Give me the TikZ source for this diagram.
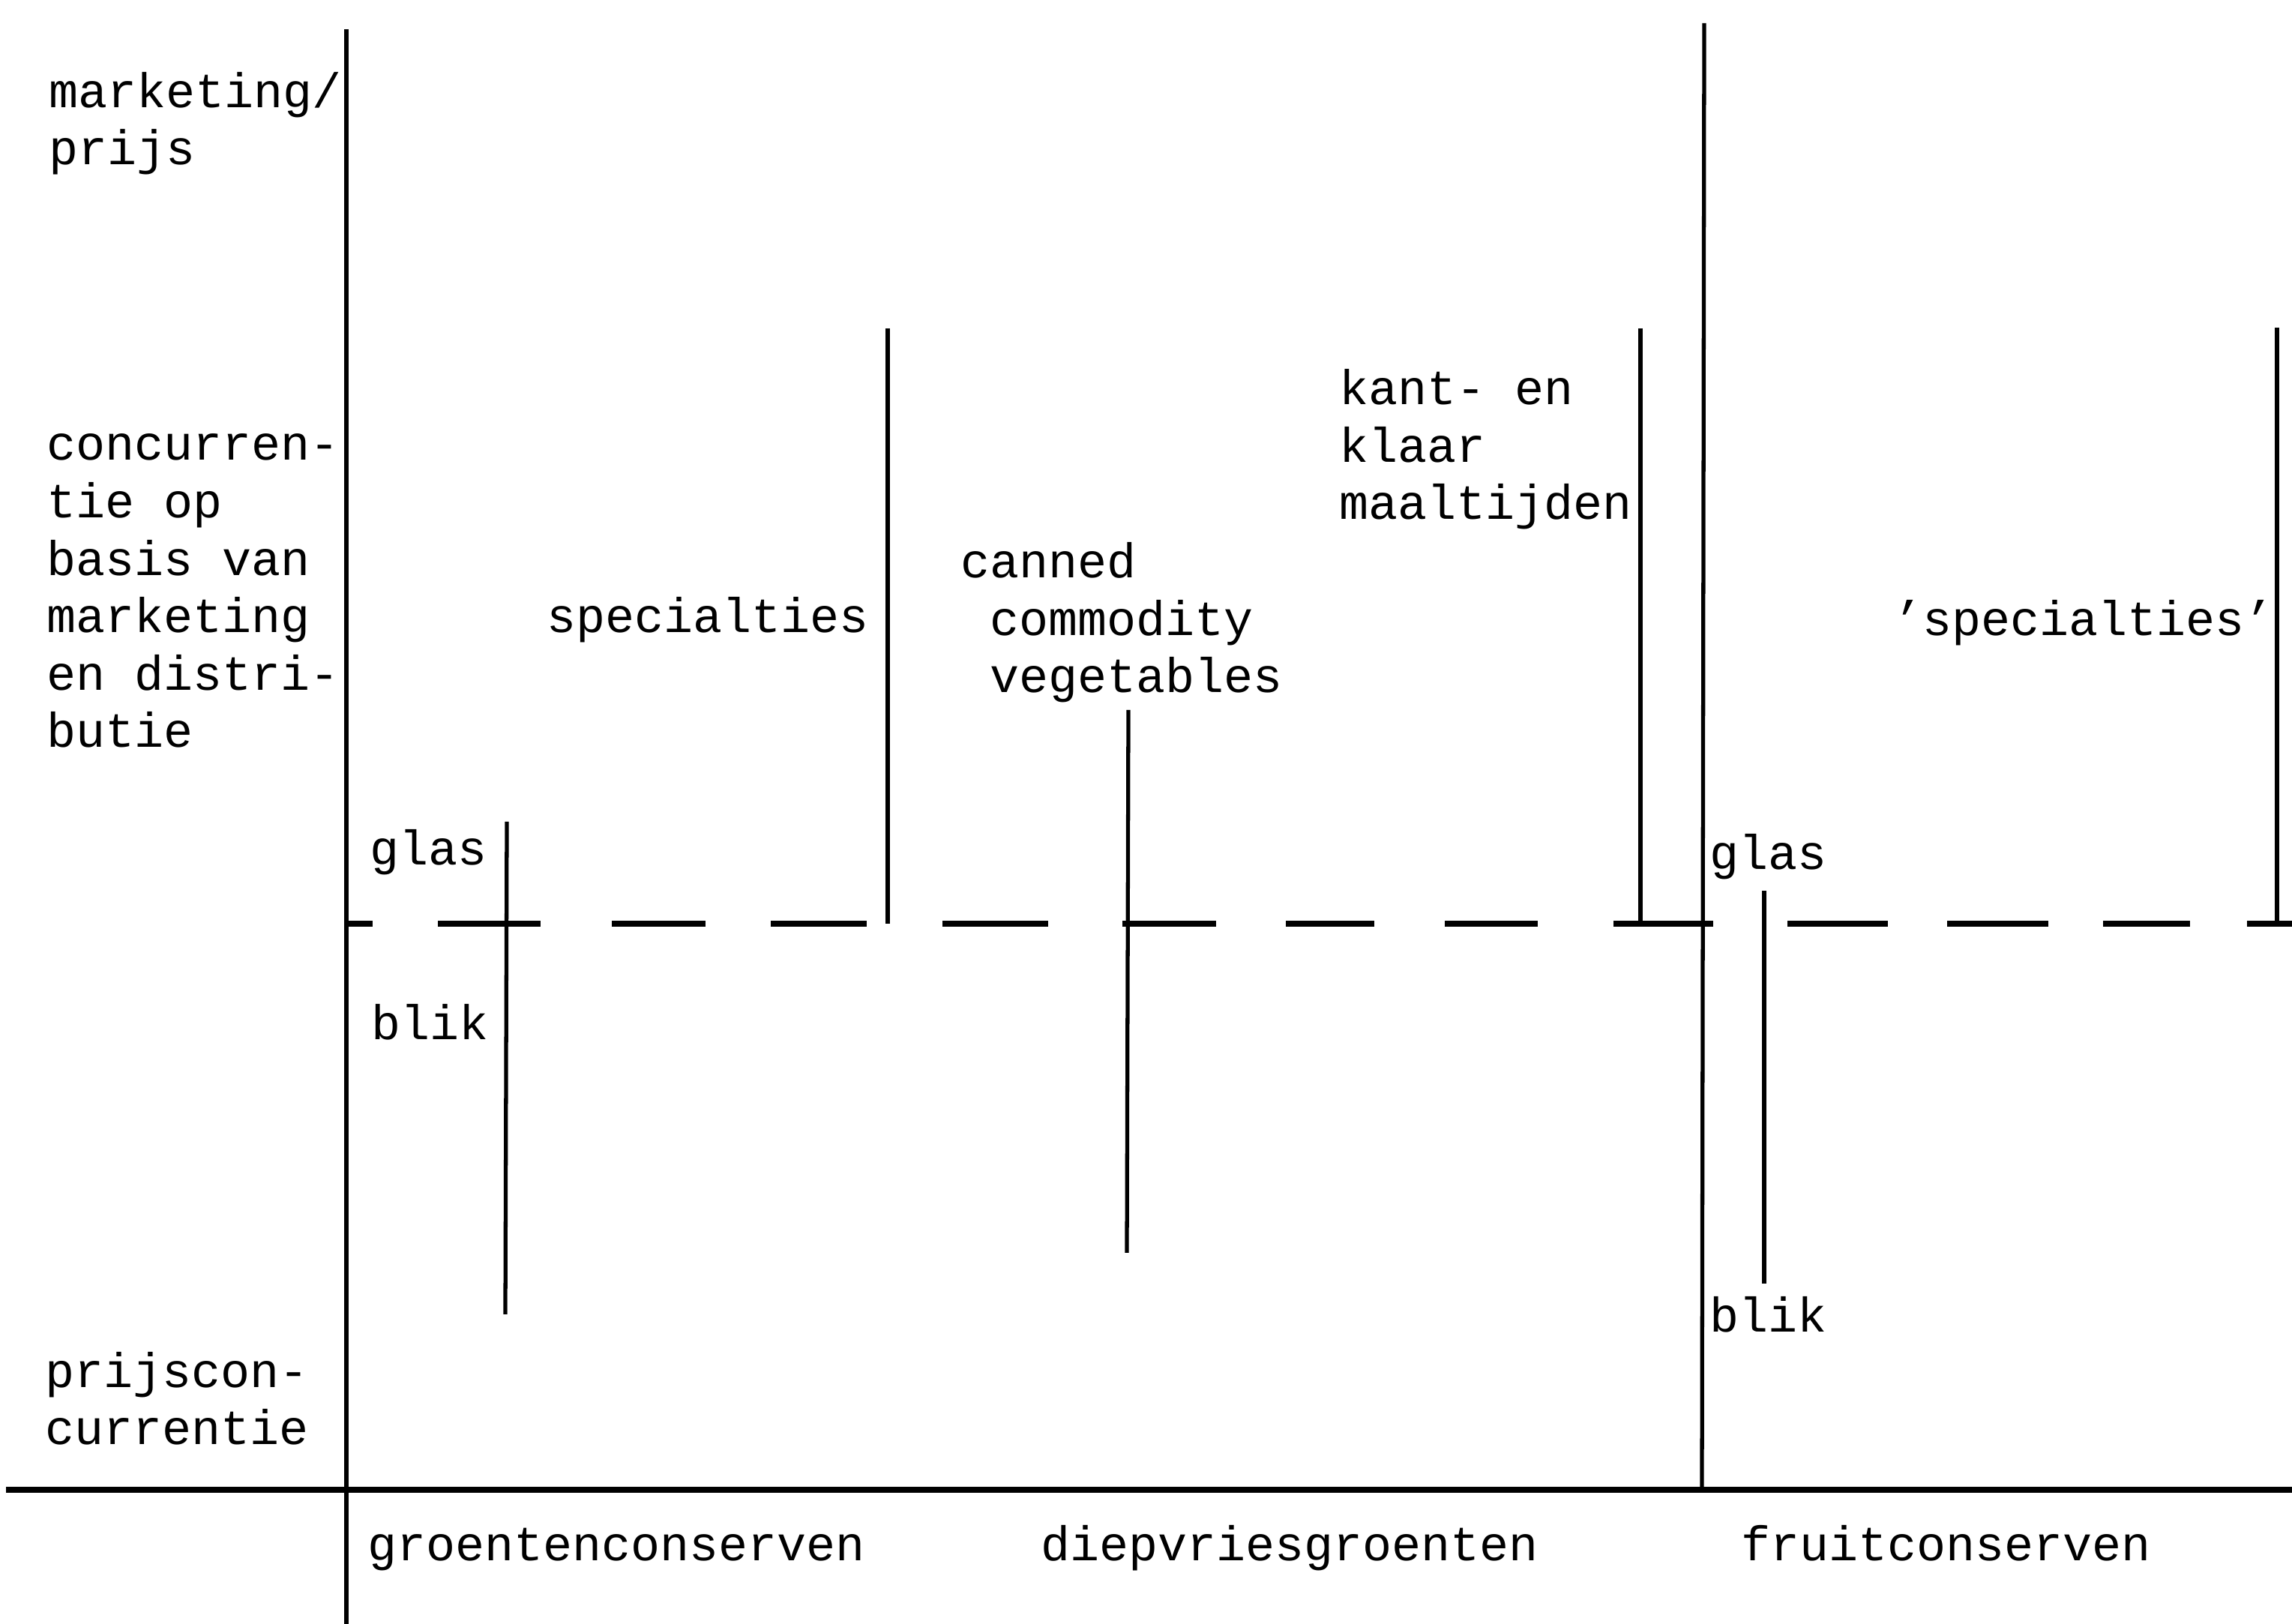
\documentclass[tikz,border=0pt]{standalone}
\usepackage{fontspec}
\setmonofont{Liberation Mono}
\usetikzlibrary{positioning}

\begin{document}
\begin{tikzpicture}[x=1cm,y=1cm,
  every node/.style={font=\ttfamily\fontsize{18.5}{21.8}\selectfont,
    inner sep=0pt,anchor=base west,align=left},
  as/.style={line width=1.5pt},
  lijn/.style={line width=1.5pt},
  streep/.style={line width=2.2pt}]
  \useasboundingbox (0,0) rectangle (30.57,21.66);

  % assen
  \coordinate (yboven) at (4.62,21.27);
  \coordinate (yonder) at (4.62,0);
  \coordinate (xlinks) at (0.08,1.79);
  \coordinate (xrechts) at (30.57,1.79);
  \coordinate (scheidboven) at (22.73,21.35);
  \coordinate (scheidonder) at (22.70,1.79);
  \draw[as] (yboven) -- (yonder);
  \draw[line width=2pt] (xlinks) -- (xrechts);
  \draw[as] (scheidboven) -- (scheidonder);

  % grens marketing / prijs
  \foreach \a/\b in {4.62/4.97,5.84/7.21,8.16/9.41,10.28/11.56,12.57/13.98,
      14.97/16.22,17.15/18.33,19.27/20.51,21.52/22.85,23.84/25.18,
      25.97/27.32,28.05/29.21,29.97/30.57}
    \draw[streep] (\a,9.34) -- (\b,9.34);

  % productgroepen
  \coordinate (spec1top) at (11.84,17.28);
  \coordinate (spec1bot) at (11.84,9.34);
  \coordinate (gb1top) at (6.76,10.70);
  \coordinate (gb1bot) at (6.74,4.13);
  \coordinate (cantop) at (15.05,12.19);
  \coordinate (canbot) at (15.03,4.95);
  \coordinate (kanttop) at (21.88,17.28);
  \coordinate (kantbot) at (21.88,9.34);
  \coordinate (gb2top) at (23.53,9.78);
  \coordinate (gb2bot) at (23.53,4.54);
  \coordinate (spec2top) at (30.37,17.29);
  \coordinate (spec2bot) at (30.37,9.34);
  \draw[lijn] (spec1top) -- (spec1bot);
  \draw[lijn] (gb1top) -- (gb1bot);
  \draw[lijn] (cantop) -- (canbot);
  \draw[lijn] (kanttop) -- (kantbot);
  \draw[lijn] (gb2top) -- (gb2bot);
  \draw[lijn] (spec2top) -- (spec2bot);

  % teksten (base = laatste regel)
  \node (mp) at (0.65,19.46) {marketing/\\prijs};
  \node (conc) at (0.62,11.69) {concurren-\\tie op\\basis van\\marketing\\en distri-\\butie};
  \node (pc) at (0.60,2.39) {prijscon-\\currentie};
  \node (groenten) at (4.90,0.84) {groentenconserven};
  \node (diepvries) at (13.88,0.84) {diepvriesgroenten};
  \node (fruit) at (23.22,0.84) {fruitconserven};
  \node (spec1) at (7.29,13.22) {specialties};
  \node (canned) at (12.81,12.42) {canned\\~commodity\\~vegetables};
  \node (kant) at (17.86,14.73) {kant- en\\klaar\\maaltijden};
  \node (spec2) at (25.25,13.18) {’specialties’};
  \node (glas1) at (4.93,10.12) {glas};
  \node (blik1) at (4.95,7.79) {blik};
  \node (glas2) at (22.80,10.06) {glas};
  \node (blik2) at (22.80,3.89) {blik};
\end{tikzpicture}
\end{document}
